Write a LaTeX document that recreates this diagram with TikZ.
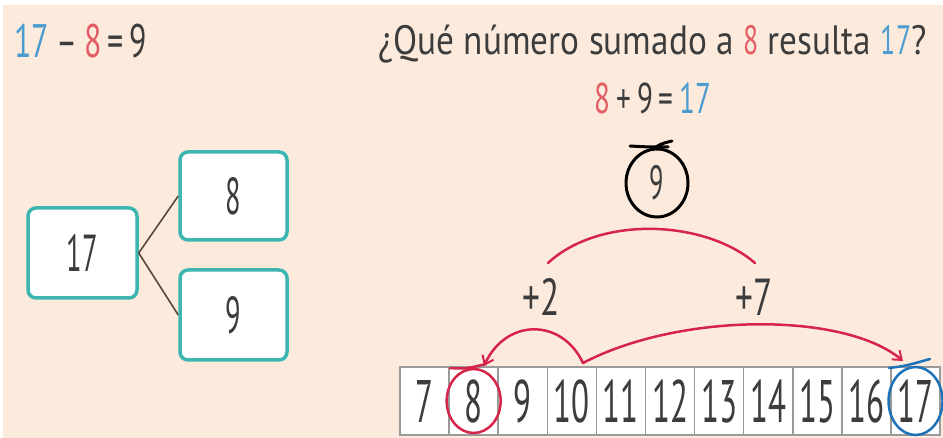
\documentclass[tikz,border=0pt]{standalone}
\usepackage{fontspec}
\usetikzlibrary{arrows.meta,shapes.geometric}
\setmainfont{PT Sans}
\newfontfamily\titlefont[FakeStretch=0.86]{PT Sans}
\newfontfamily\hw[FakeStretch=0.55]{PT Sans}
\newfontfamily\hwb[FakeStretch=0.68]{PT Sans}
\definecolor{bgpeach}{HTML}{FCEBDD}
\definecolor{teal}{HTML}{3DB6B1}
\definecolor{redc}{HTML}{D6244B}
\definecolor{redt}{HTML}{E35D64}
\definecolor{bluet}{HTML}{4A9BCF}
\definecolor{bluec}{HTML}{1E73B8}
\definecolor{ink}{HTML}{3C3C3C}
\definecolor{cellgray}{HTML}{9A9A9A}
\tikzset{
  bondbox/.style={draw=teal,line width=3.5pt,rounded corners=8pt,fill=white,minimum width=107pt,minimum height=88pt,inner sep=0pt,text=ink,font=\hw\fontsize{52}{52}\selectfont},
  cellbox/.style={draw=cellgray,line width=1.5pt,fill=white,minimum width=49.1pt,minimum height=68pt,inner sep=0pt,text=ink,font=\hw\fontsize{60}{60}\selectfont},
  hwtext/.style={inner sep=0pt,text=ink},
  redarc/.style={draw=redc,line width=2.5pt,line cap=round},
  redarrow/.style={redarc,-{Straight Barb[length=8pt,width=12pt,line width=2pt]}}
}
\begin{document}
\begin{tikzpicture}[x=1pt,y=-1pt]
\useasboundingbox (0,0) rectangle (943,438);
\fill[white] (0,0) rectangle (943,438);
\fill[bgpeach] (3,5) rectangle (943,438);

% top left equation
\node[hwtext,anchor=west,font=\hwb\fontsize{47}{47}\selectfont] (eqL) at (14,41)
  {\textcolor{bluet}{17}\hspace{7pt}\textcolor{ink}{–}\hspace{7pt}\textcolor{redt}{8}\hspace{6pt}\textcolor{ink}{=}\hspace{6pt}\textcolor{ink}{9}};

% title
\node[hwtext,anchor=base west,font=\titlefont\fontsize{41}{41}\selectfont] (title) at (378,55)
  {¿Qué número sumado a {\hwb\textcolor{redt}{8}} resulta {\hwb\textcolor{bluet}{17}}?};

% 8 + 9 = 17
\node[hwtext,font=\hwb\fontsize{43}{43}\selectfont] (eqR) at (653,98)
  {\textcolor{redt}{8}\hspace{6pt}+\hspace{6pt}9\hspace{6pt}=\hspace{6pt}\textcolor{bluet}{17}};

% number bond
\node[bondbox,minimum width=109pt,minimum height=90pt] (b17) at (82.5,253) {17};
\node[bondbox] (b8) at (233.5,196) {8};
\node[bondbox,minimum height=90pt] (b9) at (233.5,315) {9};
\draw[draw=ink!80!brown,line width=1.6pt] (b8.west) -- (b17.east) -- (b9.west);

% circled 9
\node[draw=black,ellipse,line width=3pt,minimum width=62pt,minimum height=68pt,inner sep=0pt,text=ink,font=\hw\fontsize{48}{48}\selectfont] (c9) at (657,183) {9};
\draw[black,line width=3pt,line cap=round] (630,146) .. controls (648,147) .. (668,147);
\draw[black,line width=3pt,line cap=round] (652,150) .. controls (660,144) .. (672,141);

% upper red arc
\coordinate (ua) at (548,263);
\coordinate (ub) at (755,263);
\draw[redarc] (ua) .. controls (600,215) and (705,220) .. (ub);
\node[hwtext,font=\hwb\fontsize{52}{52}\selectfont] (p2) at (541,297) {+2};
\node[hwtext,font=\hwb\fontsize{52}{52}\selectfont] (p7) at (754,297) {+7};

% number line
\foreach \n [count=\i from 0] in {7,8,9,10,11,12,13,14,15,16,17} {
  \node[cellbox] (n\n) at ({400+49.1*\i+24.55},401) {\n};
}

% circles on number line
\node[draw=redc,ellipse,line width=2.5pt,minimum width=54pt,minimum height=64pt] (r8) at (n8.center) {};
\draw[redc,line width=2.5pt,line cap=round] (450,368) .. controls (465,369) .. (486,364);
\node[draw=bluec,ellipse,line width=2.5pt,minimum width=54pt,minimum height=68pt] (r17) at (n17.center) {};
\draw[bluec,line width=2.5pt,line cap=round] (889,368) .. controls (905,366) .. (930,359);

% red jumps
\coordinate (j10) at (583,363);
\coordinate (t8) at (484,366);
\coordinate (t17) at (903,361);
\draw[redarrow] (j10) .. controls (562,318) and (506,318) .. (t8);
\draw[redarrow] (j10) .. controls (680,312) and (845,312) .. (t17);
\end{tikzpicture}
\end{document}
